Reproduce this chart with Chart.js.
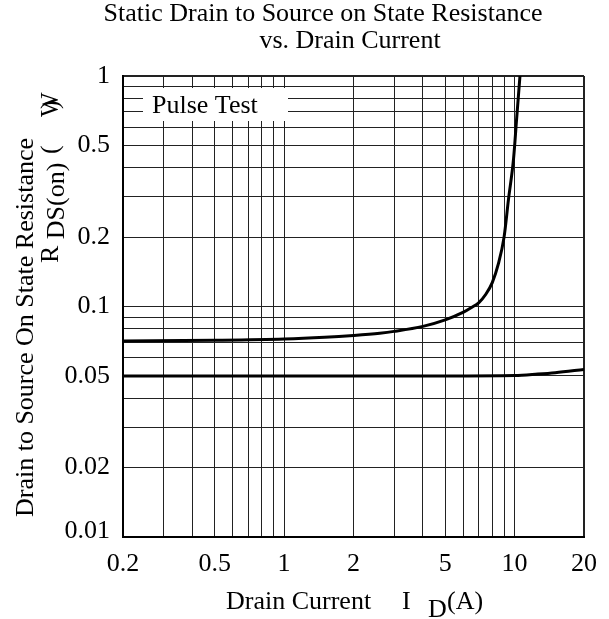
<!DOCTYPE html>
<html><head><meta charset="utf-8">
<script src="https://cdn.jsdelivr.net/npm/chart.js@4.4.1/dist/chart.umd.min.js"></script>
<style>html,body{margin:0;padding:0;background:#fff;} canvas{display:block;}</style>
</head><body>
<canvas id="c" width="609" height="619"></canvas>
<script>
const chartTitle = ['Static Drain to Source on State Resistance', 'vs. Drain Current'];
const xAxisTitle = ['Drain Current', 'I', 'D', '(A)'];
const yAxisTitle = ['Drain to Source On State Resistance', 'R', 'DS(on)', '(', 'W', ')'];
const noteText = 'Pulse Test';

const xGridValues = [0.2,0.3,0.4,0.5,0.6,0.7,0.8,0.9,1,2,3,4,5,6,7,8,9,10,20];
const xLabelValues = [0.2,0.5,1,2,5,10,20];
const xTickLabels = ['0.2','0.5','1','2','5','10','20'];
const yGridValues = [0.01,0.02,0.03,0.04,0.05,0.06,0.07,0.08,0.09,0.1,0.2,0.3,0.4,0.5,0.6,0.7,0.8,0.9,1];
const yLabelValues = [0.01,0.02,0.05,0.1,0.2,0.5,1];
const yTickLabels = ['0.01','0.02','0.05','0.1','0.2','0.5','1'];

const upperCurrent = [0.2, 0.5, 1, 1.5, 2, 2.6, 3, 4, 5, 6, 6.5, 7, 7.5, 8, 8.5, 9, 9.4, 9.9, 10.2, 10.55];
const upperResistance = [0.0708, 0.0713, 0.0722, 0.0735, 0.0749, 0.0766, 0.078, 0.082, 0.0875, 0.0945, 0.099, 0.104, 0.113, 0.127, 0.153, 0.2, 0.29, 0.44, 0.65, 1.0];
const lowerCurrent = [0.2, 1, 5, 10, 12.6, 15, 20];
const lowerResistance = [0.05, 0.05, 0.05, 0.0502, 0.0509, 0.0516, 0.0533];

const FONT = '"Liberation Serif", "Times New Roman", serif';

function pts(xs, ys) { return xs.map((x, i) => ({x: x, y: ys[i]})); }
function labelFor(values, labels, v) {
  for (let i = 0; i < values.length; i++) if (Math.abs(values[i] - v) < 1e-9 * Math.max(1, v)) return labels[i];
  return '';
}

const textPlugin = {
  id: 'texts',
  beforeDatasetsDraw(chart) {
    const {ctx, chartArea: a} = chart;
    ctx.save();
    ctx.fillStyle = '#fff';
    ctx.fillRect(a.left + 20, a.top + 12, 145, 33);
    ctx.fillStyle = '#000';
    ctx.font = '26px ' + FONT;
    ctx.textBaseline = 'alphabetic';
    ctx.textAlign = 'left';
    ctx.fillText(noteText, a.left + 29, a.top + 37);
    ctx.restore();
  },
  afterDraw(chart) {
    const {ctx} = chart;
    ctx.save();
    ctx.fillStyle = '#000';
    ctx.font = '26px ' + FONT;
    ctx.textBaseline = 'alphabetic';
    ctx.textAlign = 'center';
    ctx.fillText(chartTitle[0], 323, 21);
    ctx.fillText(chartTitle[1], 350, 48);
    ctx.textAlign = 'left';
    ctx.fillText(xAxisTitle[0], 226, 609);
    ctx.fillText(xAxisTitle[1], 402, 609);
    ctx.fillText(xAxisTitle[2], 428, 617);
    ctx.fillText(xAxisTitle[3], 447, 609);
    ctx.save();
    ctx.translate(33, 327.5);
    ctx.rotate(-Math.PI / 2);
    ctx.textAlign = 'center';
    ctx.fillText(yAxisTitle[0], 0, 0);
    ctx.restore();
    ctx.save();
    ctx.translate(58, 263);
    ctx.rotate(-Math.PI / 2);
    ctx.textAlign = 'left';
    ctx.fillText(yAxisTitle[1], 0, 0);
    const xs = ctx.measureText(yAxisTitle[1]).width + 6.5;
    ctx.fillText(yAxisTitle[2], xs, 6);
    ctx.fillText(yAxisTitle[3], 109, 0);
    ctx.fillText(yAxisTitle[4], 146, 0);
    ctx.fillText(yAxisTitle[5], 154, 0);
    ctx.restore();
    ctx.restore();
  }
};

const gridWidth = (n) => (c) => (c.index === n - 1 ? 2 : 1);
const isBottomY = (v) => Math.abs(v - yLabelValues[0]) < 1e-12;

new Chart(document.getElementById('c'), {
  type: 'scatter',
  data: {
    datasets: [
      { data: pts(upperCurrent, upperResistance), showLine: true, borderColor: '#000', borderWidth: 3,
        pointRadius: 0, cubicInterpolationMode: 'monotone', fill: false },
      { data: pts(lowerCurrent, lowerResistance), showLine: true, borderColor: '#000', borderWidth: 3,
        pointRadius: 0, cubicInterpolationMode: 'monotone', fill: false }
    ]
  },
  options: {
    responsive: false,
    animation: false,
    devicePixelRatio: 1,
    layout: { padding: { top: 76, right: 23, left: 0, bottom: 0 } },
    plugins: { legend: { display: false }, title: { display: false }, tooltip: { enabled: false } },
    scales: {
      x: {
        type: 'logarithmic', min: 0.2, max: 20,
        afterBuildTicks: (s) => { s.ticks = xGridValues.map(v => ({value: v})); },
        afterFit: (s) => { s.height = 82; },
        ticks: { autoSkip: false, maxRotation: 0, minRotation: 0, padding: 12, color: '#000',
                 font: { family: FONT, size: 26 },
                 callback: (v) => labelFor(xLabelValues, xTickLabels, v) },
        grid: { color: '#222', drawTicks: false, lineWidth: gridWidth(xGridValues.length) },
        border: { display: true, color: '#000', width: 2 }
      },
      y: {
        type: 'logarithmic', min: 0.01, max: 1,
        afterBuildTicks: (s) => { s.ticks = yGridValues.map(v => ({value: v})); },
        afterFit: (s) => { s.width = 123; },
        ticks: { autoSkip: false, padding: 13, color: '#000',
                 font: (c) => ({ family: FONT, size: 26, lineHeight: (c.tick && isBottomY(c.tick.value)) ? 0.46 : 1.2 }),
                 callback: (v) => { const l = labelFor(yLabelValues, yTickLabels, v); return isBottomY(v) ? [l, ''] : l; } },
        grid: { color: '#222', drawTicks: false, lineWidth: gridWidth(yGridValues.length) },
        border: { display: true, color: '#000', width: 2 }
      }
    }
  },
  plugins: [textPlugin]
});
</script>
</body></html>
